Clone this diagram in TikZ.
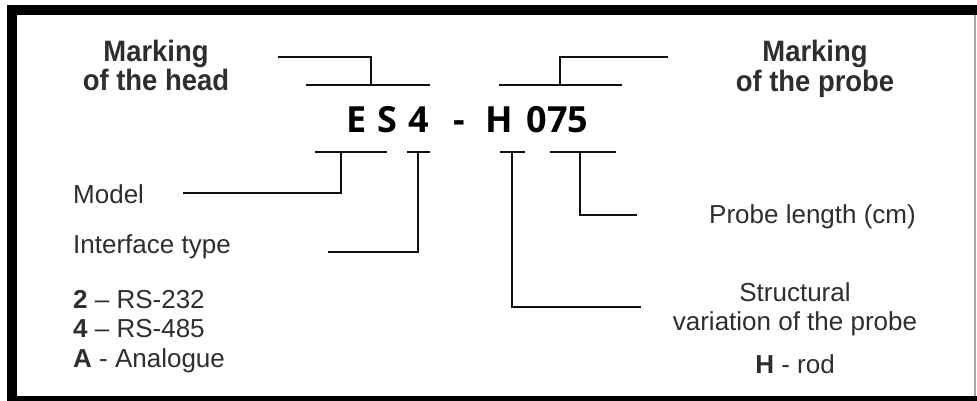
\documentclass[tikz,border=0pt]{standalone}
\usepackage{fontspec}
\usepackage{graphicx}
\setmainfont{Liberation Sans}
\newfontfamily\codefont{Open Sans}
\definecolor{txt}{HTML}{2E2E2E}
\definecolor{ln}{HTML}{111111}
\newcommand{\narrowed}[1]{\scalebox{0.93}[1]{#1}}
\tikzset{
  lbl/.style={inner sep=0pt, anchor=base, text=txt, font=\fontsize{26}{30}\selectfont},
  lblb/.style={inner sep=0pt, anchor=base, text=txt, font=\fontsize{29.5}{34}\selectfont\bfseries},
  code/.style={inner sep=0pt, anchor=base, text=black, font=\fontsize{36}{40}\selectfont\codefont\bfseries},
  wire/.style={draw=ln, line width=2.5pt},
}
\begin{document}
\begin{tikzpicture}[x=1pt,y=-1pt]
\useasboundingbox (0,0) rectangle (977,401);
% frame
\fill[white] (0,0) rectangle (977,401);
\fill[black] (7,5) rectangle (977,15);
\fill[black] (7,5) rectangle (17,398);
\fill[black] (7,396) rectangle (977,401);
\draw[gray!70, line width=1.5pt] (975,15) -- (975,396);

% headings
\node[lblb] (headA) at (156,61.5) {\narrowed{Marking}};
\node[lblb] (headB) at (156,90.5) {\narrowed{of the head}};
\node[lblb] (probeA) at (815,61.5) {\narrowed{Marking}};
\node[lblb] (probeB) at (815,91.5) {\narrowed{of the probe}};

% code
\node[code] (cE) at (357,133) {E};
\node[code] (cS) at (387.5,133) {S};
\node[code] (c4) at (419,133) {4};
\node[code] (cdash) at (459,133) {-};
\node[code] (cH) at (499,133) {H};
\node[code] (cL) at (557.5,133) {075};

% left labels
\node[lbl, anchor=base west] (model) at (73,203) {Model};
\node[lbl, anchor=base west] (iface) at (73,253) {Interface type};
\node[lbl, anchor=base west] (rs232) at (73,308) {\textbf{2} -- RS-232};
\node[lbl, anchor=base west] (rs485) at (73,337) {\textbf{4} -- RS-485};
\node[lbl, anchor=base west] (anal) at (73,367) {\textbf{A} - Analogue};

% right labels
\node[lbl, anchor=base west] (plen) at (709,223) {Probe length (cm)};
\node[lbl] (structA) at (795,301) {Structural};
\node[lbl] (structB) at (795,330) {variation of the probe};
\node[lbl] (rod) at (795,373) {\textbf{H} - rod};

% bracket coordinates
\coordinate (hU1) at (278,57); \coordinate (hU2) at (371,57);
\coordinate (hV) at (371,85);
\coordinate (hL1) at (306,85); \coordinate (hL2) at (430,85);
\coordinate (pL1) at (499,85); \coordinate (pL2) at (622,85);
\coordinate (pV) at (560,85);
\coordinate (pU1) at (560,57); \coordinate (pU2) at (668,57);

\coordinate (mT1) at (315,152); \coordinate (mT2) at (387,152);
\coordinate (mV) at (341,152); \coordinate (mC) at (341,193); \coordinate (mE) at (183,193);
\coordinate (iT1) at (407,152); \coordinate (iT2) at (430,152);
\coordinate (iV) at (418,152); \coordinate (iC) at (418,252); \coordinate (iE) at (328,252);
\coordinate (sT1) at (500,152); \coordinate (sT2) at (525,152);
\coordinate (sV) at (512,152); \coordinate (sC) at (512,307); \coordinate (sE) at (641,307);
\coordinate (lT1) at (550,152); \coordinate (lT2) at (616,152);
\coordinate (lV) at (580,152); \coordinate (lC) at (580,215); \coordinate (lE) at (637,215);

% brackets
\draw[wire] (hU1) -- (hU2) -- (hV);
\draw[wire] (hL1) -- (hL2);
\draw[wire] (pL1) -- (pL2);
\draw[wire] (pV) -- (pU1) -- (pU2);

\draw[wire] (mT1) -- (mT2);
\draw[wire] (mV) -- (mC) -- (mE);
\draw[wire] (iT1) -- (iT2);
\draw[wire] (iV) -- (iC) -- (iE);
\draw[wire] (sT1) -- (sT2);
\draw[wire] (sV) -- (sC) -- (sE);
\draw[wire] (lT1) -- (lT2);
\draw[wire] (lV) -- (lC) -- (lE);
\end{tikzpicture}
\end{document}
